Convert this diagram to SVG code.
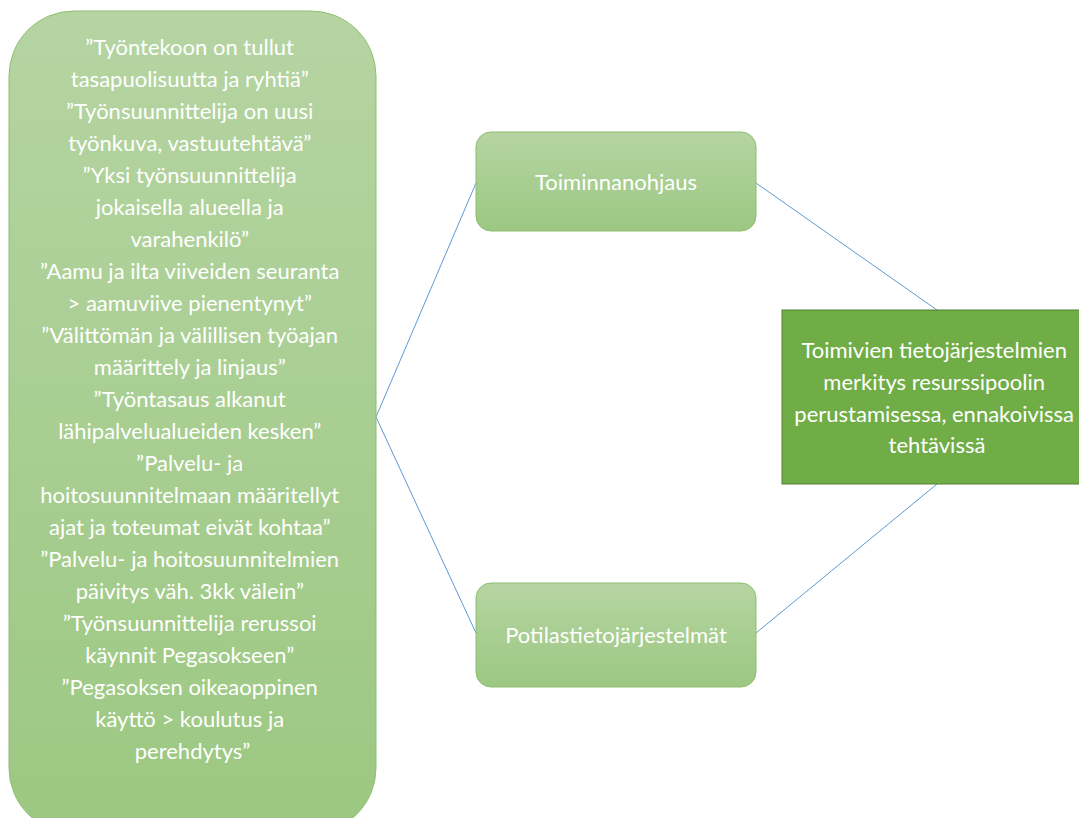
<svg xmlns="http://www.w3.org/2000/svg" width="1079" height="818" viewBox="0 0 1079 818">
<defs>
<linearGradient id="g" x1="0" y1="0" x2="0" y2="1">
<stop offset="0" stop-color="#B5D4A2"/>
<stop offset="1" stop-color="#9CC882"/>
</linearGradient>
<style>
.n{fill:url(#g);stroke:#8DBF70;stroke-width:1}
.t{font-family:Lato,"Liberation Sans",sans-serif;font-size:22px;fill:#fff;text-anchor:middle}
.c{stroke:#5B9BD5;stroke-width:1;fill:none}
</style>
</defs>
<rect width="1079" height="818" fill="#fff"/>
<g id="connectors">
<line class="c" x1="376" y1="417" x2="476" y2="183"/>
<line class="c" x1="376" y1="417" x2="476" y2="633"/>
<line class="c" x1="756" y1="183" x2="937" y2="310"/>
<line class="c" x1="756" y1="633" x2="937" y2="484"/>
</g>
<g id="left">
<rect class="n" x="9" y="11" width="367" height="822" rx="65" ry="65"/>
<text class="t">
<tspan x="192.5" y="55">”Työntekoon on tullut</tspan>
<tspan x="192.5" y="87">tasapuolisuutta ja ryhtiä”</tspan>
<tspan x="192.5" y="119">”Työnsuunnittelija on uusi</tspan>
<tspan x="192.5" y="151">työnkuva, vastuutehtävä”</tspan>
<tspan x="192.5" y="183">”Yksi työnsuunnittelija</tspan>
<tspan x="192.5" y="215">jokaisella alueella ja</tspan>
<tspan x="192.5" y="247">varahenkilö”</tspan>
<tspan x="192.5" y="279">”Aamu ja ilta viiveiden seuranta</tspan>
<tspan x="192.5" y="311">&gt; aamuviive pienentynyt”</tspan>
<tspan x="192.5" y="343">”Välittömän ja välillisen työajan</tspan>
<tspan x="192.5" y="375">määrittely ja linjaus”</tspan>
<tspan x="192.5" y="407">”Työntasaus alkanut</tspan>
<tspan x="192.5" y="439">lähipalvelualueiden kesken”</tspan>
<tspan x="192.5" y="471">”Palvelu- ja</tspan>
<tspan x="192.5" y="503">hoitosuunnitelmaan määritellyt</tspan>
<tspan x="192.5" y="535">ajat ja toteumat eivät kohtaa”</tspan>
<tspan x="192.5" y="567">”Palvelu- ja hoitosuunnitelmien</tspan>
<tspan x="192.5" y="599">päivitys väh. 3kk välein”</tspan>
<tspan x="192.5" y="631">”Työnsuunnittelija rerussoi</tspan>
<tspan x="192.5" y="663">käynnit Pegasokseen”</tspan>
<tspan x="192.5" y="695">”Pegasoksen oikeaoppinen</tspan>
<tspan x="192.5" y="727">käyttö &gt; koulutus ja</tspan>
<tspan x="192.5" y="759">perehdytys”</tspan>
</text>
</g>
<g id="toiminnanohjaus">
<rect class="n" x="476" y="132" width="280" height="99" rx="15" ry="15"/>
<text class="t" x="616" y="190">Toiminnanohjaus</text>
</g>
<g id="potilastietojarjestelmat">
<rect class="n" x="476" y="583" width="280" height="104" rx="15" ry="15"/>
<text class="t" x="616" y="643">Potilastietojärjestelmät</text>
</g>
<g id="center">
<rect x="782" y="310" width="310" height="174" fill="#70AD47" stroke="#507E32" stroke-width="1"/>
<text class="t">
<tspan x="937" y="358">Toimivien tietojärjestelmien</tspan>
<tspan x="937" y="390">merkitys resurssipoolin</tspan>
<tspan x="937" y="422">perustamisessa, ennakoivissa</tspan>
<tspan x="937" y="453">tehtävissä</tspan>
</text>
</g>
</svg>
